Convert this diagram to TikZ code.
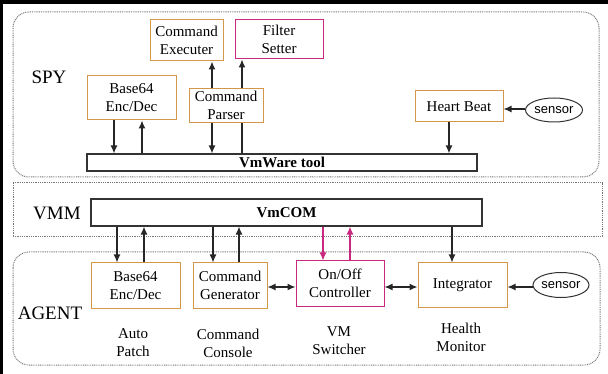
\documentclass[tikz,border=0pt]{standalone}
\usepackage{fontspec}
\setmainfont{Liberation Serif}
\newfontfamily\sensfont{Liberation Sans}
\usetikzlibrary{arrows.meta,shapes.geometric}
\definecolor{boxorange}{RGB}{212,150,72}
\definecolor{boxmag}{RGB}{200,40,125}
\definecolor{dotgray}{RGB}{120,120,120}
\tikzset{
  region/.style={draw=dotgray, line width=1pt, dash pattern=on 0.9pt off 0.9pt},
  obox/.style={draw=boxorange, line width=1pt, fill=white, inner sep=0pt, align=center,
    font=\fontsize{15}{18}\selectfont},
  mbox/.style={obox, draw=boxmag},
  bar/.style={draw=black!80, line width=1.2pt, fill=white, inner sep=0pt,
    font=\fontsize{15}{18}\selectfont\bfseries},
  sens/.style={ellipse, draw=black!80, line width=1pt, inner sep=0pt,
    minimum width=57pt, minimum height=24pt, font=\sensfont\fontsize{13}{15}\selectfont},
  arr/.style={line width=1.3pt, black!85, -{Latex[length=8pt,width=7pt]}},
  darr/.style={line width=1.3pt, black!85, {Latex[length=8pt,width=7pt]}-{Latex[length=8pt,width=7pt]}},
  marr/.style={arr, boxmag},
  plain/.style={line width=1.3pt, black!85},
  lab/.style={font=\fontsize{19}{22}\selectfont, inner sep=0pt},
  sub/.style={align=center, font=\fontsize{15}{18}\selectfont, inner sep=0pt},
}
\begin{document}
\begin{tikzpicture}[x=1pt,y=-1pt]
\useasboundingbox (0,0) rectangle (608,374);
\fill[white] (0,0) rectangle (608,374);
% outer frame (top and left)
\fill[black] (0,0) rectangle (608,4);
\fill[black] (0,0) rectangle (3,374);
% regions
\draw[region, rounded corners=16pt] (13,12) rectangle (599,177);
\draw[region] (13,183) rectangle (602,237);
\draw[region, rounded corners=16pt] (13,252) rectangle (600,365);
% labels
\node[lab] (spy) at (49,77) {SPY};
\node[lab] (vmm) at (57,213) {VMM};
\node[lab] (agent) at (50,313) {AGENT};
% SPY nodes
\node[obox, minimum width=73pt, minimum height=41pt] (cexec) at (186.5,40.5) {Command\\Executer};
\node[mbox, minimum width=88pt, minimum height=39pt] (filt) at (279,39.5) {Filter\\Setter};
\node[obox, minimum width=89pt, minimum height=44pt] (b64s) at (131.5,98) {Base64\\Enc/Dec};
\node[obox, minimum width=88pt, minimum height=31pt] (hb) at (459,106.5) {Heart Beat};
\node[sens] (sens1) at (554,110) {sensor};
\node[bar, minimum width=390pt, minimum height=17pt] (vmware) at (282,162.5) {VmWare tool};
% parser with connector behind
\draw[plain] (vmware.north -| 242,0) -- (242,123);
\node[obox, minimum width=74pt, minimum height=34pt, text height=0pt] (parser) at (226,106) {};
\node[sub] (parsertxt) at (226,105) {Command\\Parser};
% VMM
\node[bar, minimum width=391pt, minimum height=27pt] (vmcom) at (286.5,212.5) {VmCOM};
% AGENT nodes
\node[obox, minimum width=89pt, minimum height=45pt] (b64a) at (135.5,285.5) {Base64\\Enc/Dec};
\node[obox, minimum width=74pt, minimum height=45pt] (cgen) at (230,285.5) {Command\\Generator};
\node[mbox, minimum width=88pt, minimum height=45pt] (onoff) at (340,283.5) {On/Off\\Controller};
\node[obox, minimum width=89pt, minimum height=44pt] (integ) at (462.5,285) {Integrator};
\node[sens, minimum width=56pt, minimum height=25pt] (sens2) at (561,285) {sensor};
% sub labels
\node[sub] (autop) at (133,343) {Auto\\Patch};
\node[sub] (ccons) at (228,343) {Command\\Console};
\node[sub] (vmsw) at (339,341) {VM\\Switcher};
\node[sub] (hmon) at (461,337) {Health\\Monitor};
% SPY connectors
\draw[arr] (b64s.south -| 114,0) -- (vmware.north -| 114,0);
\draw[arr] (vmware.north -| 142,0) -- (b64s.south -| 142,0);
\draw[arr] (parser.north -| 212,0) -- (cexec.south -| 212,0);
\draw[arr] (parser.south -| 212,0) -- (vmware.north -| 212,0);
\draw[arr] (parser.north -| 242,0) -- (filt.south -| 242,0);
\draw[arr] (hb.south -| 449,0) -- (vmware.north -| 449,0);
\draw[arr] (sens1.west |- 0,109) -- (hb.east |- 0,109);
% VMM-AGENT connectors
\draw[arr] (vmcom.south -| 117,0) -- (b64a.north -| 117,0);
\draw[arr] (b64a.north -| 144,0) -- (vmcom.south -| 144,0);
\draw[arr] (vmcom.south -| 213,0) -- (cgen.north -| 213,0);
\draw[arr] (cgen.north -| 239,0) -- (vmcom.south -| 239,0);
\draw[marr] (vmcom.south -| 323,0) -- (onoff.north -| 323,0);
\draw[marr] (onoff.north -| 350,0) -- (vmcom.south -| 350,0);
\draw[arr] (vmcom.south -| 452,0) -- (integ.north -| 452,0);
\draw[darr] (cgen.east |- 0,287) -- (onoff.west |- 0,287);
\draw[darr] (onoff.east |- 0,287) -- (integ.west |- 0,287);
\draw[arr] (sens2.west |- 0,287) -- (integ.east |- 0,287);
\end{tikzpicture}
\end{document}
